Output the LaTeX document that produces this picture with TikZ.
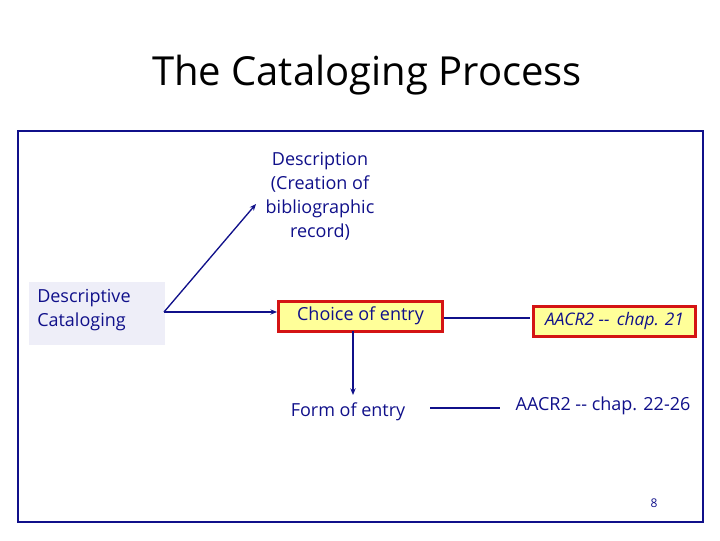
\documentclass[tikz,border=0pt]{standalone}
\usepackage{fontspec}
\setmainfont{Open Sans}
\usetikzlibrary{arrows.meta}
\definecolor{navy}{HTML}{10108A}
\definecolor{lav}{HTML}{EEEEF8}
\definecolor{yel}{HTML}{FFFF99}
\definecolor{redb}{HTML}{D41414}
\tikzset{
 txt/.style={text=navy,font=\fontsize{13.5}{18}\selectfont,inner sep=0pt},
 conn/.style={draw=navy,line width=1pt},
 arr/.style={conn,-{Stealth[length=5pt,width=4pt]}},
 hl/.style={draw=redb,line width=2.2pt,fill=yel,inner sep=0pt}
}
\begin{document}
\begin{tikzpicture}[x=0.75pt,y=-0.75pt]
\useasboundingbox (0,0) rectangle (720,540);
\node[font=\fontsize{30}{34}\selectfont,text=black] (title) at (367,75) {The Cataloging Process};
\draw[navy,line width=0.8pt] (18,131) rectangle (703,522);
\node[txt,align=center] (desc) at (320,196) {Description\\(Creation of\\bibliographic\\record)};
\node[fill=lav,minimum width=102pt,minimum height=47pt,inner sep=0pt] (dcbox) at (97,313.5) {};
\node[txt,align=left,anchor=west] (dc) at (37,310) {Descriptive\\Cataloging};
\node[hl,minimum width=123pt,minimum height=22pt] (choice) at (360.5,316.5) {};
\node[txt] (choicet) at (360.5,316) {Choice of entry};
\node[hl,minimum width=122pt,minimum height=23pt] (a21) at (614.5,321.5) {};
\node[txt,font=\itshape\fontsize{13}{18}\selectfont] (a21t) at (614.5,321) {AACR2 -{}-\, chap. 21};
\node[txt] (form) at (348,412) {Form of entry};
\node[txt] (a22) at (603,406) {AACR2 -{}- chap. 22-26};
\node[font=\fontsize{9}{10}\selectfont,text=navy] (pg) at (654,503) {8};
\coordinate (o) at (164,312);
\coordinate (dtip) at (256,204);
\draw[arr] (o) -- (dtip);
\draw[arr] (o) -- (choice.west |- o);
\draw[arr] (353,331) -- (353,395);
\draw[conn] (choice.east |- 0,318) -- (530,318);
\draw[conn] (430,408) -- (500,408);
\end{tikzpicture}
\end{document}
